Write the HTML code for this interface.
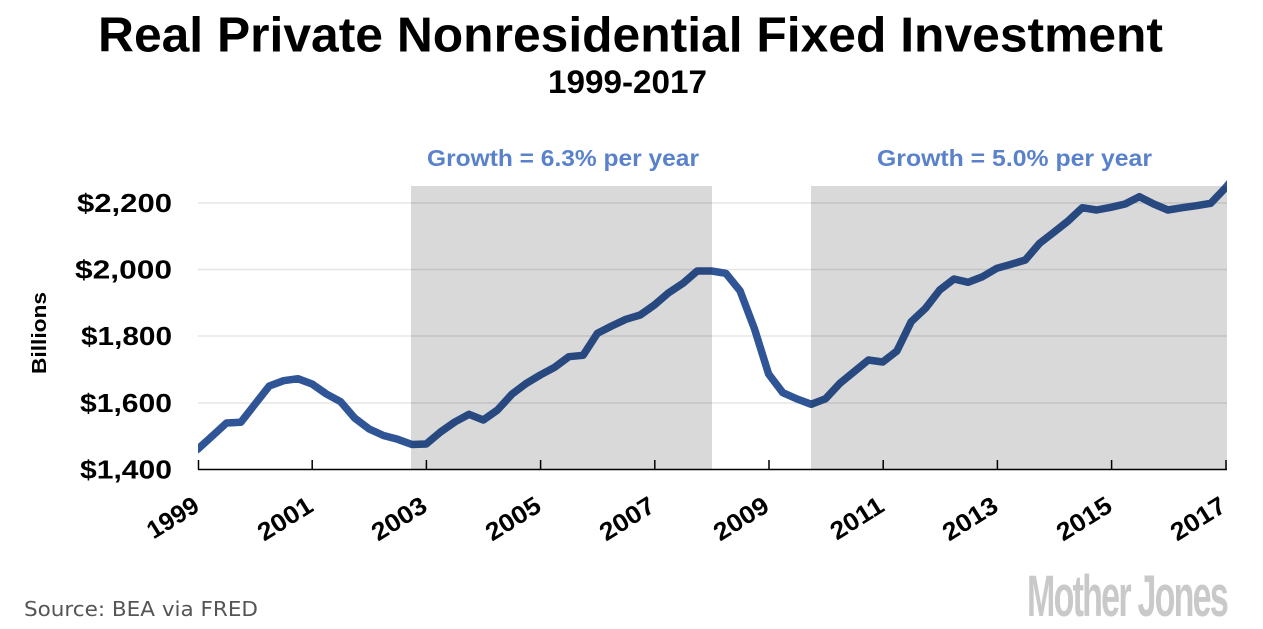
<!DOCTYPE html>
<html>
<head>
<meta charset="utf-8">
<style>
  html, body { margin:0; padding:0; background:#fff; }
  svg { display:block; }
</style>
</head>
<body>
<svg width="1263" height="629" viewBox="0 0 1263 629" xmlns="http://www.w3.org/2000/svg">
  <rect x="0" y="0" width="1263" height="629" fill="#ffffff"/>

  <!-- Title -->
  <text x="98" y="51.5" font-family="Liberation Sans, sans-serif" font-weight="bold" font-size="49" fill="#000" textLength="1065" lengthAdjust="spacingAndGlyphs">Real Private Nonresidential Fixed Investment</text>
  <text x="548" y="93" font-family="Liberation Sans, sans-serif" font-weight="bold" font-size="32" fill="#000" textLength="159" lengthAdjust="spacingAndGlyphs">1999-2017</text>

  <!-- Growth labels -->
  <text x="427" y="166" font-family="Liberation Sans, sans-serif" font-weight="bold" font-size="23" fill="#5a82cc" textLength="272" lengthAdjust="spacingAndGlyphs">Growth = 6.3% per year</text>
  <text x="877" y="166" font-family="Liberation Sans, sans-serif" font-weight="bold" font-size="23" fill="#5a82cc" textLength="275" lengthAdjust="spacingAndGlyphs">Growth = 5.0% per year</text>

  <!-- Gridlines -->
  <g stroke="#e5e5e5" stroke-width="1.5">
    <line x1="198" y1="203" x2="1227" y2="203"/>
    <line x1="198" y1="269.5" x2="1227" y2="269.5"/>
    <line x1="198" y1="336" x2="1227" y2="336"/>
    <line x1="198" y1="403" x2="1227" y2="403"/>
  </g>

  <!-- Data line -->
  <defs>
    <clipPath id="plot"><rect x="198" y="150" width="1029" height="319"/></clipPath>
  </defs>
  <polyline clip-path="url(#plot)" fill="none" stroke="#2f5597" stroke-width="7.5" stroke-linejoin="round" stroke-linecap="butt"
    points="192,453 198,449 212.3,436 226.5,423 240.8,422.3 255.1,404 269.3,386 283.6,380.7 297.8,378.7 312.1,384 326.4,394 340.6,401.7 354.9,418.3 369.2,429 383.4,435.5 397.7,439.3 412.0,444.5 426.2,444 440.5,432 454.8,422 469.0,414.3 483.3,420 497.5,410 511.8,394.3 526.1,383.5 540.3,375 554.6,367.3 568.9,356.7 583.1,355.3 597.4,333.3 611.7,326 625.9,319.3 640.2,315 654.4,305 668.7,292.7 683.0,283.3 697.2,271 711.5,271 725.8,273.3 740.0,290.7 754.3,328.3 768.6,374 782.8,392.7 797.1,399 811.3,404.3 825.6,398.7 839.9,383.3 854.1,371.7 868.4,360 882.7,362 896.9,351 911.2,321.7 925.5,308.3 939.7,290 954.0,279 968.2,282.3 982.5,276.7 996.8,268.3 1011.0,264.3 1025.3,260 1039.6,243.3 1053.8,232.3 1068.1,221 1082.3,207.7 1096.6,210 1110.9,207.3 1125.1,204 1139.4,196.7 1153.7,204 1167.9,210 1182.2,207.7 1196.5,205.7 1210.7,203.3 1225.0,188.3 1232,180"/>

  <!-- Shaded regions (overlay) -->
  <rect x="411" y="186" width="301" height="283" fill="#000" fill-opacity="0.15"/>
  <rect x="811" y="186" width="416" height="283" fill="#000" fill-opacity="0.15"/>

  <!-- Axis + ticks -->
  <g stroke="#000" stroke-width="1.5">
    <line x1="198" y1="469.5" x2="1227" y2="469.5"/>
    <line x1="198.5" y1="460" x2="198.5" y2="469.5"/>
    <line x1="312.2" y1="460" x2="312.2" y2="469.5"/>
    <line x1="426.4" y1="460" x2="426.4" y2="469.5"/>
    <line x1="540.6" y1="460" x2="540.6" y2="469.5"/>
    <line x1="654.8" y1="460" x2="654.8" y2="469.5"/>
    <line x1="769" y1="460" x2="769" y2="469.5"/>
    <line x1="883.2" y1="460" x2="883.2" y2="469.5"/>
    <line x1="997.4" y1="460" x2="997.4" y2="469.5"/>
    <line x1="1111.6" y1="460" x2="1111.6" y2="469.5"/>
    <line x1="1226" y1="460" x2="1226" y2="469.5"/>
  </g>

  <!-- Y labels -->
  <g font-family="Liberation Sans, sans-serif" font-weight="bold" font-size="26" fill="#000" text-anchor="end">
    <text x="172" y="212" textLength="95" lengthAdjust="spacingAndGlyphs">$2,200</text>
    <text x="172" y="278.5" textLength="97" lengthAdjust="spacingAndGlyphs">$2,000</text>
    <text x="172" y="345" textLength="91" lengthAdjust="spacingAndGlyphs">$1,800</text>
    <text x="172" y="412" textLength="92" lengthAdjust="spacingAndGlyphs">$1,600</text>
    <text x="172" y="478.5" textLength="92" lengthAdjust="spacingAndGlyphs">$1,400</text>
  </g>

  <!-- Y axis title -->
  <text transform="translate(46,333) rotate(-90)" text-anchor="middle" font-family="Liberation Sans, sans-serif" font-weight="bold" font-size="20" fill="#000" textLength="82" lengthAdjust="spacingAndGlyphs">Billions</text>

  <!-- X labels -->
  <g font-family="Liberation Sans, sans-serif" font-weight="bold" font-size="25" fill="#000" text-anchor="end">
    <text transform="translate(201,510) rotate(-32)" textLength="56" lengthAdjust="spacingAndGlyphs">1999</text>
    <text transform="translate(315,510) rotate(-32)" textLength="60" lengthAdjust="spacingAndGlyphs">2001</text>
    <text transform="translate(429,510) rotate(-32)" textLength="60" lengthAdjust="spacingAndGlyphs">2003</text>
    <text transform="translate(543,510) rotate(-32)" textLength="60" lengthAdjust="spacingAndGlyphs">2005</text>
    <text transform="translate(657,510) rotate(-32)" textLength="60" lengthAdjust="spacingAndGlyphs">2007</text>
    <text transform="translate(771,510) rotate(-32)" textLength="60" lengthAdjust="spacingAndGlyphs">2009</text>
    <text transform="translate(886,510) rotate(-32)" textLength="58" lengthAdjust="spacingAndGlyphs">2011</text>
    <text transform="translate(1000,510) rotate(-32)" textLength="60" lengthAdjust="spacingAndGlyphs">2013</text>
    <text transform="translate(1114,510) rotate(-32)" textLength="60" lengthAdjust="spacingAndGlyphs">2015</text>
    <text transform="translate(1228,510) rotate(-32)" textLength="60" lengthAdjust="spacingAndGlyphs">2017</text>
  </g>

  <!-- Footer -->
  <text x="24" y="616" font-family="DejaVu Sans, Liberation Sans, sans-serif" font-size="20" fill="#555555" textLength="234" lengthAdjust="spacingAndGlyphs">Source: BEA via FRED</text>
  <text x="1027" y="616" font-family="Liberation Sans Narrow, Liberation Sans, sans-serif" font-weight="bold" font-size="58" fill="#c9c9c9" textLength="200" lengthAdjust="spacingAndGlyphs" letter-spacing="-3">Mother Jones</text>
</svg>
</body>
</html>
